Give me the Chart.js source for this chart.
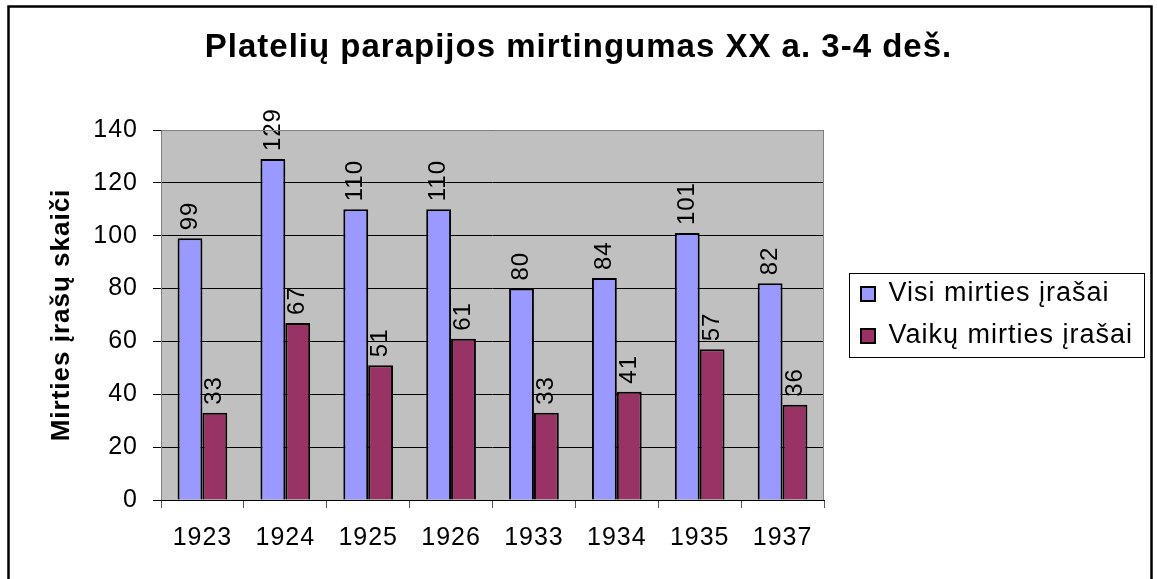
<!DOCTYPE html>
<html>
<head>
<meta charset="utf-8">
<script src="https://cdn.jsdelivr.net/npm/chart.js@4/dist/chart.umd.min.js"></script>
<style>
  html, body { margin: 0; padding: 0; background: #fff; }
  canvas { display: block; }
</style>
</head>
<body>
<canvas id="myChart" width="1157" height="579"></canvas>
<script>
// chart data
const years = ["1923", "1924", "1925", "1926", "1933", "1934", "1935", "1937"];
const allDeaths = [99, 129, 110, 110, 80, 84, 101, 82];
const childDeaths = [33, 67, 51, 61, 33, 41, 57, 36];
const seriesNames = ["Visi mirties įrašai", "Vaikų mirties įrašai"];
const yTicks = [0, 20, 40, 60, 80, 100, 120, 140];

const FONT = "'Liberation Sans', Arial, sans-serif";

// the original renders text a bit wide, so add a little letter spacing
const spacing = {
  id: "spacing",
  beforeUpdate(chart) { chart.ctx.letterSpacing = "1px"; },
  beforeLayout(chart) { chart.ctx.letterSpacing = "1px"; },
  beforeDraw(chart) { chart.ctx.letterSpacing = "1px"; }
};

// white page, outer frame and the grey plot area
const frame = {
  id: "frame",
  afterLayout(chart) {
    // move legend items a bit to the right, like the original
    chart.legend.left += 22;
    chart.legend.right += 22;
  },
  beforeDraw(chart) {
    const { ctx, chartArea: a } = chart;
    ctx.save();
    ctx.fillStyle = "#fff";
    ctx.fillRect(0, 0, chart.width, chart.height);
    ctx.fillStyle = "#c0c0c0";
    ctx.fillRect(a.left, a.top, a.right - a.left, a.bottom - a.top);
    ctx.strokeStyle = "#000";
    ctx.lineWidth = 2.5;
    ctx.strokeRect(8.5, 6.5, 1143, 640);
    ctx.restore();
  },
  afterDraw(chart) {
    const { ctx, chartArea: a } = chart;
    ctx.save();
    ctx.strokeStyle = "#808080";
    ctx.lineWidth = 1;
    ctx.beginPath();
    ctx.moveTo(Math.round(a.left) + 0.5, Math.round(a.bottom));
    ctx.lineTo(Math.round(a.left) + 0.5, Math.round(a.top) + 0.5);
    ctx.lineTo(Math.round(a.right) - 0.5, Math.round(a.top) + 0.5);
    ctx.lineTo(Math.round(a.right) - 0.5, Math.round(a.bottom));
    ctx.stroke();

    // box around the legend
    const lg = chart.legend;
    const hb = lg.legendHitBoxes;
    if (hb && hb.length) {
      const pad = lg.options.labels.padding;
      const x0 = Math.round(lg.left + pad - 12) + 0.5;
      const y0 = Math.round(hb[0].top - 8) + 0.5;
      const last = hb[hb.length - 1];
      const y1 = Math.round(last.top + last.height + 7) + 0.5;
      ctx.strokeStyle = "#000";
      ctx.lineWidth = 1;
      ctx.strokeRect(x0, y0, 295, y1 - y0);
    }
    ctx.restore();
  }
};

// rotated value labels above each bar
const barLabels = {
  id: "barLabels",
  afterDatasetsDraw(chart) {
    const ctx = chart.ctx;
    ctx.save();
    ctx.font = "24px " + FONT;
    ctx.fillStyle = "#000";
    ctx.textAlign = "left";
    ctx.textBaseline = "middle";
    chart.data.datasets.forEach((ds, i) => {
      chart.getDatasetMeta(i).data.forEach((bar, j) => {
        ctx.save();
        ctx.translate(bar.x, bar.y - 8);
        ctx.rotate(-Math.PI / 2);
        ctx.fillText(String(ds.data[j]), 0, 0);
        ctx.restore();
      });
    });
    ctx.restore();
  }
};

new Chart("myChart", {
  type: "bar",
  data: {
    labels: years,
    datasets: [
      {
        label: seriesNames[0],
        data: allDeaths,
        backgroundColor: "#9999ff",
        borderColor: "#000",
        borderWidth: 2
      },
      {
        label: seriesNames[1],
        data: childDeaths,
        backgroundColor: "#993366",
        borderColor: "#000",
        borderWidth: 2
      }
    ]
  },
  options: {
    responsive: false,
    animation: false,
    devicePixelRatio: 1,
    categoryPercentage: 0.6,
    barPercentage: 1,
    layout: { padding: { left: 43, right: 43, top: 0, bottom: 0 } },
    scales: {
      x: {
        afterFit(scale) { scale.height = 79; },
        grid: {
          display: true,
          drawOnChartArea: false,
          drawTicks: true,
          tickLength: 8,
          color: "#555"
        },
        border: { display: true, color: "#000", width: 1 },
        ticks: {
          color: "#000",
          padding: 14.7,
          font: { family: FONT, size: 25 }
        }
      },
      y: {
        min: 0,
        max: 140,
        afterFit(scale) { scale.width = 118; },
        afterBuildTicks(scale) { scale.ticks = yTicks.map(v => ({ value: v })); },
        grid: { color: "#000", tickLength: 8 },
        border: { display: false },
        ticks: {
          color: "#000",
          padding: 15,
          font: { family: FONT, size: 25 }
        },
        title: {
          display: true,
          text: "Mirties įrašų skaiči",
          color: "#000",
          padding: { top: 3, bottom: 0 },
          font: { family: FONT, size: 26, weight: "bold" }
        }
      }
    },
    plugins: {
      title: {
        display: true,
        text: "Platelių parapijos mirtingumas XX a. 3-4 deš.",
        color: "#000",
        padding: { top: 27.7, bottom: 62.7 },
        font: { family: FONT, size: 33, weight: "bold" }
      },
      legend: {
        display: true,
        position: "right",
        fullSize: false,
        maxWidth: 290,
        labels: {
          color: "#000",
          boxWidth: 14,
          boxHeight: 14,
          padding: 15,
          font: { family: FONT, size: 27 }
        }
      },
      tooltip: { enabled: false }
    }
  },
  plugins: [spacing, frame, barLabels]
});
</script>
</body>
</html>
